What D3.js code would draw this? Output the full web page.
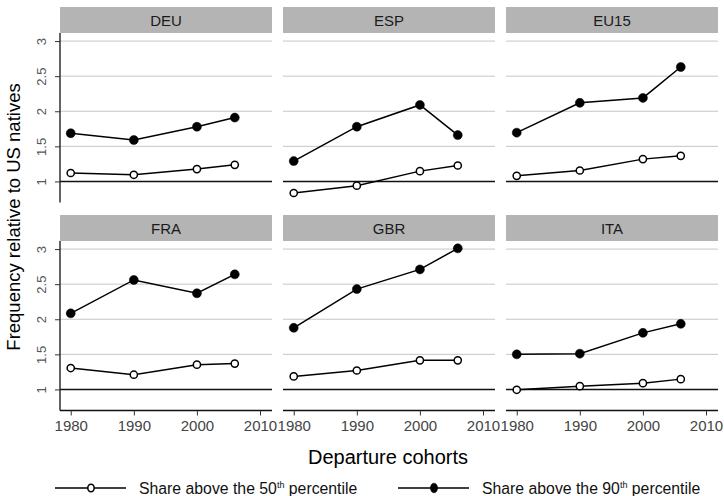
<!DOCTYPE html>
<html><head><meta charset="utf-8">
<script src="https://cdn.jsdelivr.net/npm/d3@7"></script>
<style>body{margin:0;background:#fff}svg{display:block}text{font-family:"Liberation Sans",Arial,sans-serif}</style>
</head><body><svg id="c" width="724" height="496"></svg>
<script>
const years = [1980, 1990, 2000, 2006];
const countries = ["DEU", "ESP", "EU15", "FRA", "GBR", "ITA"];
// Share above the 50th percentile, per country (in order of countries)
const share50 = [
  [1.12, 1.095, 1.176, 1.237],
  [0.835, 0.94, 1.147, 1.227],
  [1.08, 1.156, 1.318, 1.365],
  [1.305, 1.21, 1.353, 1.368],
  [1.186, 1.27, 1.415, 1.415],
  [0.995, 1.047, 1.09, 1.147]
];
// Share above the 90th percentile
const share90 = [
  [1.687, 1.59, 1.78, 1.91],
  [1.29, 1.78, 2.09, 1.66],
  [1.695, 2.12, 2.19, 2.63],
  [2.084, 2.56, 2.37, 2.64],
  [1.878, 2.43, 2.71, 3.01],
  [1.50, 1.51, 1.806, 1.935]
];
const xTicks = [1980, 1990, 2000, 2010];
const yTicks = [1, 1.5, 2, 2.5, 3];
const yTickLabels = ["1", "1.5", "2", "2.5", "3"];
const seriesNames = ["Share above the 50", "Share above the 90"];

const svg = d3.select("#c");
const colX = [60, 283, 506], panelW = 212;
const rowTop = [7, 215], headerH = 26, plotH = 169.5;

const x = d3.scaleLinear().domain([1978.3, 2011.9]).range([0, panelW]);
const y = d3.scaleLinear().domain([0.7, 3.115]).range([plotH, 0]);

function marker(sel, s) {
  return sel.attr("fill", s === 0 ? "#fff" : "#000").attr("stroke", "#000")
    .attr("stroke-width", s === 0 ? 1.5 : 0.5);
}

countries.forEach((c, i) => {
  const col = i % 3, row = Math.floor(i / 3);
  const g = svg.append("g").attr("transform", `translate(${colX[col]},${rowTop[row]})`);
  g.append("rect").attr("width", panelW).attr("height", headerH).attr("fill", "#b4b4b4");
  g.append("text").attr("x", panelW / 2).attr("y", headerH / 2 + 5.5)
    .attr("text-anchor", "middle").attr("font-size", 15).attr("fill", "#1a1a1a").text(c);
  const p = g.append("g").attr("transform", `translate(0,${headerH})`);
  p.selectAll(".grid").data(yTicks.filter(v => v !== 1)).join("line")
    .attr("x1", 0).attr("x2", panelW).attr("y1", d => y(d)).attr("y2", d => y(d))
    .attr("stroke", "#c6c6c6").attr("stroke-width", 1);
  p.append("line").attr("x1", 0).attr("x2", panelW).attr("y1", y(1)).attr("y2", y(1))
    .attr("stroke", "#111").attr("stroke-width", 1.5);
  if (col === 0) {
    const ax = p.append("g").call(d3.axisLeft(y).tickValues(yTicks).tickSize(5).tickFormat((d, k) => yTickLabels[k]));
    ax.select(".domain").attr("stroke", "#111").attr("stroke-width", 1.3).attr("d", `M0,0V${plotH}`);
    ax.selectAll(".tick line").attr("stroke", "#333");
    ax.selectAll(".tick text").attr("transform", "rotate(-90)").attr("x", 0).attr("y", -14)
      .attr("dy", 0).attr("text-anchor", "middle").attr("font-size", 13).attr("fill", "#555")
      .style("font-family", '"Liberation Sans",Arial,sans-serif');
  }
  if (row === 1) {
    const ax = p.append("g").attr("transform", `translate(0,${plotH})`)
      .call(d3.axisBottom(x).tickValues(xTicks).tickSize(5).tickFormat(d3.format("d")));
    ax.select(".domain").attr("stroke", "#111").attr("stroke-width", 1.3).attr("d", `M0,0H${panelW}`);
    ax.selectAll(".tick line").attr("stroke", "#333");
    ax.selectAll(".tick text").attr("y", 10).attr("dy", "0.71em").attr("font-size", 15).attr("fill", "#444")
      .style("font-family", '"Liberation Sans",Arial,sans-serif');
  }
  const line = d3.line().x((d, k) => x(years[k])).y(d => y(d));
  [share50[i], share90[i]].forEach((vals, s) => {
    p.append("path").attr("d", line(vals)).attr("fill", "none").attr("stroke", "#000").attr("stroke-width", 1.5);
    p.selectAll(null).data(vals).join("circle")
      .attr("cx", (d, k) => x(years[k])).attr("cy", d => y(d))
      .attr("r", s === 0 ? 3.6 : 4.5)
      .call(marker, s);
  });
});

svg.append("text").attr("x", 388).attr("y", 464).attr("text-anchor", "middle")
  .attr("font-size", 20).attr("fill", "#000").text("Departure cohorts");
svg.append("text").attr("transform", "translate(20,217) rotate(-90)").attr("text-anchor", "middle")
  .attr("font-size", 18.5).attr("fill", "#000").text("Frequency relative to US natives");

// legend
const legX = [55, 398], legY = 488;
seriesNames.forEach((name, s) => {
  const lg = svg.append("g").attr("transform", `translate(${legX[s]},${legY})`);
  lg.append("line").attr("x1", 0).attr("x2", 71).attr("stroke", "#000").attr("stroke-width", 1.5);
  lg.append("ellipse").attr("cx", 36).attr("rx", s === 0 ? 3.2 : 3.6).attr("ry", s === 0 ? 3.8 : 4.8)
    .call(marker, s);
  const t = lg.append("text").attr("x", 84).attr("y", 5.5).attr("font-size", 15.8).attr("fill", "#111");
  t.append("tspan").text(name);
  t.append("tspan").attr("font-size", 9).attr("dy", -6).text("th");
  t.append("tspan").attr("dy", 6).text(" percentile");
});
</script></body></html>
